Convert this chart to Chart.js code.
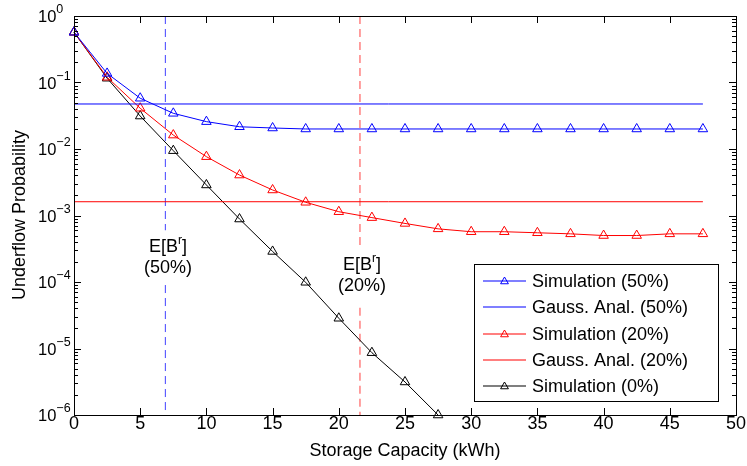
<!DOCTYPE html>
<html>
<head>
<meta charset="utf-8">
<title>Underflow Probability vs Storage Capacity</title>
<script src="https://cdn.jsdelivr.net/npm/chart.js@4.4.1/dist/chart.umd.min.js"></script>
<style>
  html, body { margin: 0; padding: 0; background: #fff; }
  #chart { display: block; }
</style>
</head>
<body>
<canvas id="chart" width="747" height="466"></canvas>
<script>
// --- datos ---
const capacidad = [0, 2.5, 5, 7.5, 10, 12.5, 15, 17.5, 20, 22.5, 25, 27.5,
                   30, 32.5, 35, 37.5, 40, 42.5, 45, 47.5];

// Simulacion 50%
const sim50 = [0.57, 0.137, 0.058, 0.0344, 0.0258, 0.0216, 0.0207, 0.0200, 0.0200, 0.0200,
               0.0200, 0.0200, 0.0200, 0.0200, 0.0200, 0.0200, 0.0200, 0.0200, 0.0200, 0.0200];
// Simulacion 20%
const sim20 = [0.57, 0.12, 0.041, 0.0162, 0.00767, 0.00406, 0.00242, 0.00158, 0.00114, 0.00093,
               0.00076, 0.00063, 0.00057, 0.00057, 0.00055, 0.00053, 0.00050, 0.00050, 0.00053, 0.00053];
// Simulacion 0% (llega hasta 27.5)
const sim0 = [0.57, 0.116, 0.0313, 0.00944, 0.00288, 0.000885, 0.000288, 9.9e-5, 2.85e-5, 8.65e-6,
              3.14e-6, 1.0e-6];

// Aproximacion gaussiana (lineas horizontales)
const gaussX = [0, 47.5];
const gauss50 = 0.0475;
const gauss20 = 0.00161;

// Lineas verticales E[B^r] (x, y donde se corta arriba, y donde sigue abajo)
const ebr50 = { x: 6.9, corte: [6e-4, 9e-5] };
const ebr20 = { x: 21.6, corte: [3.6e-4, 4.1e-5] };

// ejes
const ticksX = [0, 5, 10, 15, 20, 25, 30, 35, 40, 45, 50];
const exponentesY = [0, -1, -2, -3, -4, -5, -6];

const azul = '#0000ff';
const rojo = '#ff0000';
const negro = '#000000';
const fuente = '"Liberation Sans", Arial, Helvetica, sans-serif';

// entradas de la leyenda: [texto, color, con marcador]
const leyenda = [
  ['Simulation (50%)', azul, true],
  ['Gauss. Anal. (50%)', azul, false],
  ['Simulation (20%)', rojo, true],
  ['Gauss. Anal. (20%)', rojo, false],
  ['Simulation (0%)', negro, true]
];

const pares = (xs, ys) => ys.map((y, i) => ({ x: xs[i], y: y }));
const vertical = (l) => [
  { x: l.x, y: 1 }, { x: l.x, y: l.corte[0] }, { x: l.x, y: null },
  { x: l.x, y: l.corte[1] }, { x: l.x, y: 1e-6 }
];

function serieSim(label, ys, color) {
  return {
    label: label,
    data: pares(capacidad, ys),
    borderColor: color,
    borderWidth: 1,
    pointStyle: 'triangle',
    pointRadius: 5.5,
    pointBorderWidth: 1,
    pointBorderColor: color,
    pointBackgroundColor: 'rgba(0,0,0,0)',
    tension: 0,
    clip: false
  };
}
function serieGauss(label, v, color) {
  return {
    label: label,
    data: pares(gaussX, [v, v]),
    borderColor: color,
    borderWidth: 1,
    pointRadius: 0
  };
}
function serieDash(l, color) {
  return {
    label: '',
    data: vertical(l),
    borderColor: color,
    borderWidth: 1,
    borderDash: [8, 5],
    pointRadius: 0,
    spanGaps: false
  };
}

function supTexto(ctx, base, sup, x, y, size, supSize, rise) {
  ctx.font = size + 'px ' + fuente;
  ctx.fillText(base, x, y);
  const w = ctx.measureText(base).width;
  ctx.font = supSize + 'px ' + fuente;
  ctx.fillText(sup, x + w, y - rise);
  return w + ctx.measureText(sup).width;
}

function triangulo(ctx, x, y, r, color) {
  ctx.strokeStyle = color;
  ctx.beginPath();
  ctx.moveTo(x, y - r);
  ctx.lineTo(x + r * 0.866, y + r * 0.5);
  ctx.lineTo(x - r * 0.866, y + r * 0.5);
  ctx.closePath();
  ctx.stroke();
}

// ejes estilo MATLAB, etiquetas, anotaciones y leyenda
const marco = {
  id: 'marco',
  afterDraw(chart) {
    const ctx = chart.ctx;
    const a = chart.chartArea;
    const sx = chart.scales.x, sy = chart.scales.y;
    ctx.save();
    ctx.setLineDash([]);
    ctx.strokeStyle = negro;
    ctx.fillStyle = negro;
    ctx.lineWidth = 1;

    // caja
    ctx.strokeRect(Math.round(a.left) + 0.5, Math.round(a.top) + 0.5,
                   Math.round(a.right - a.left), Math.round(a.bottom - a.top));

    // ticks eje x (hacia dentro, arriba y abajo)
    ctx.beginPath();
    ticksX.forEach(v => {
      const px = Math.round(sx.getPixelForValue(v)) + 0.5;
      ctx.moveTo(px, a.bottom); ctx.lineTo(px, a.bottom - 7);
      ctx.moveTo(px, a.top); ctx.lineTo(px, a.top + 7);
    });
    // ticks eje y (mayores y menores)
    exponentesY.forEach(e => {
      const py = Math.round(sy.getPixelForValue(Math.pow(10, e))) + 0.5;
      ctx.moveTo(a.left, py); ctx.lineTo(a.left + 7, py);
      ctx.moveTo(a.right, py); ctx.lineTo(a.right - 7, py);
      if (e > -6) {
        for (let m = 2; m <= 9; m++) {
          const pm = Math.round(sy.getPixelForValue(m * Math.pow(10, e - 1))) + 0.5;
          ctx.moveTo(a.left, pm); ctx.lineTo(a.left + 4, pm);
          ctx.moveTo(a.right, pm); ctx.lineTo(a.right - 4, pm);
        }
      }
    });
    ctx.stroke();

    // etiquetas x
    ctx.font = '18px ' + fuente;
    ctx.textAlign = 'center';
    ctx.textBaseline = 'alphabetic';
    ticksX.forEach(v => ctx.fillText(String(v), sx.getPixelForValue(v), a.bottom + 14));

    // etiquetas y: 10^e
    ctx.textAlign = 'left';
    exponentesY.forEach(e => {
      const py = sy.getPixelForValue(Math.pow(10, e));
      const txt = e === 0 ? '0' : '\u2212' + Math.abs(e);
      supTexto(ctx, '10', txt, 38, py + 6, 16.5, 12.5, 9);
    });

    // titulos de ejes
    ctx.font = '18px ' + fuente;
    ctx.textAlign = 'center';
    ctx.fillText('Storage Capacity (kWh)', (a.left + a.right) / 2, 456);
    ctx.save();
    ctx.translate(25, 215);
    ctx.rotate(-Math.PI / 2);
    ctx.fillText('Underflow Probability', 0, 0);
    ctx.restore();

    // anotaciones E[B^r]
    [[ebr50, 168, 252, '(50%)'], [ebr20, 362, 270, '(20%)']].forEach(([l, cx, by, pct]) => {
      ctx.font = '18px ' + fuente;
      const w1 = ctx.measureText('E[B').width;
      ctx.font = '12px ' + fuente;
      const w2 = ctx.measureText('r').width;
      ctx.font = '18px ' + fuente;
      const w3 = ctx.measureText(']').width;
      const x0 = cx - (w1 + w2 + w3) / 2;
      ctx.textAlign = 'left';
      ctx.fillText('E[B', x0, by);
      ctx.font = '12px ' + fuente;
      ctx.fillText('r', x0 + w1, by - 8);
      ctx.font = '18px ' + fuente;
      ctx.fillText(']', x0 + w1 + w2, by);
      ctx.textAlign = 'center';
      ctx.fillText(pct, cx, by + 21);
    });

    // leyenda
    const lx = 474, ly = 264, lw = 244, lh = 137;
    ctx.fillStyle = '#fff';
    ctx.fillRect(lx, ly, lw, lh);
    ctx.strokeStyle = negro;
    ctx.strokeRect(lx + 0.5, ly + 0.5, lw, lh);
    ctx.font = '18px ' + fuente;
    ctx.textAlign = 'left';
    ctx.textBaseline = 'middle';
    leyenda.forEach(([texto, color, marcador], i) => {
      const y = Math.round(ly + 17 + i * 26.3);
      ctx.strokeStyle = color;
      ctx.lineWidth = 1.2;
      ctx.beginPath();
      ctx.moveTo(483, y); ctx.lineTo(526, y);
      ctx.stroke();
      ctx.lineWidth = 1;
      if (marcador) triangulo(ctx, 504.5, y + 0.5, 4.5, color);
      ctx.fillStyle = negro;
      ctx.fillText(texto, 532, y + 1);
    });
    ctx.restore();
  }
};

new Chart(document.getElementById('chart'), {
  type: 'line',
  data: {
    datasets: [
      serieSim('Simulation (50%)', sim50, azul),
      serieGauss('Gauss. Anal. (50%)', gauss50, azul),
      serieSim('Simulation (20%)', sim20, rojo),
      serieGauss('Gauss. Anal. (20%)', gauss20, rojo),
      serieSim('Simulation (0%)', sim0, negro),
      serieDash(ebr50, 'rgba(0,0,255,0.75)'),
      serieDash(ebr20, 'rgba(255,0,0,0.75)')
    ]
  },
  options: {
    responsive: false,
    animation: false,
    devicePixelRatio: 1,
    layout: { padding: { left: 74, right: 11, top: 16, bottom: 51 } },
    plugins: { legend: { display: false }, tooltip: { enabled: false } },
    scales: {
      x: { type: 'linear', min: 0, max: 50, display: false },
      y: { type: 'logarithmic', min: 1e-6, max: 1, display: false }
    }
  },
  plugins: [marco]
});
</script>
</body>
</html>
